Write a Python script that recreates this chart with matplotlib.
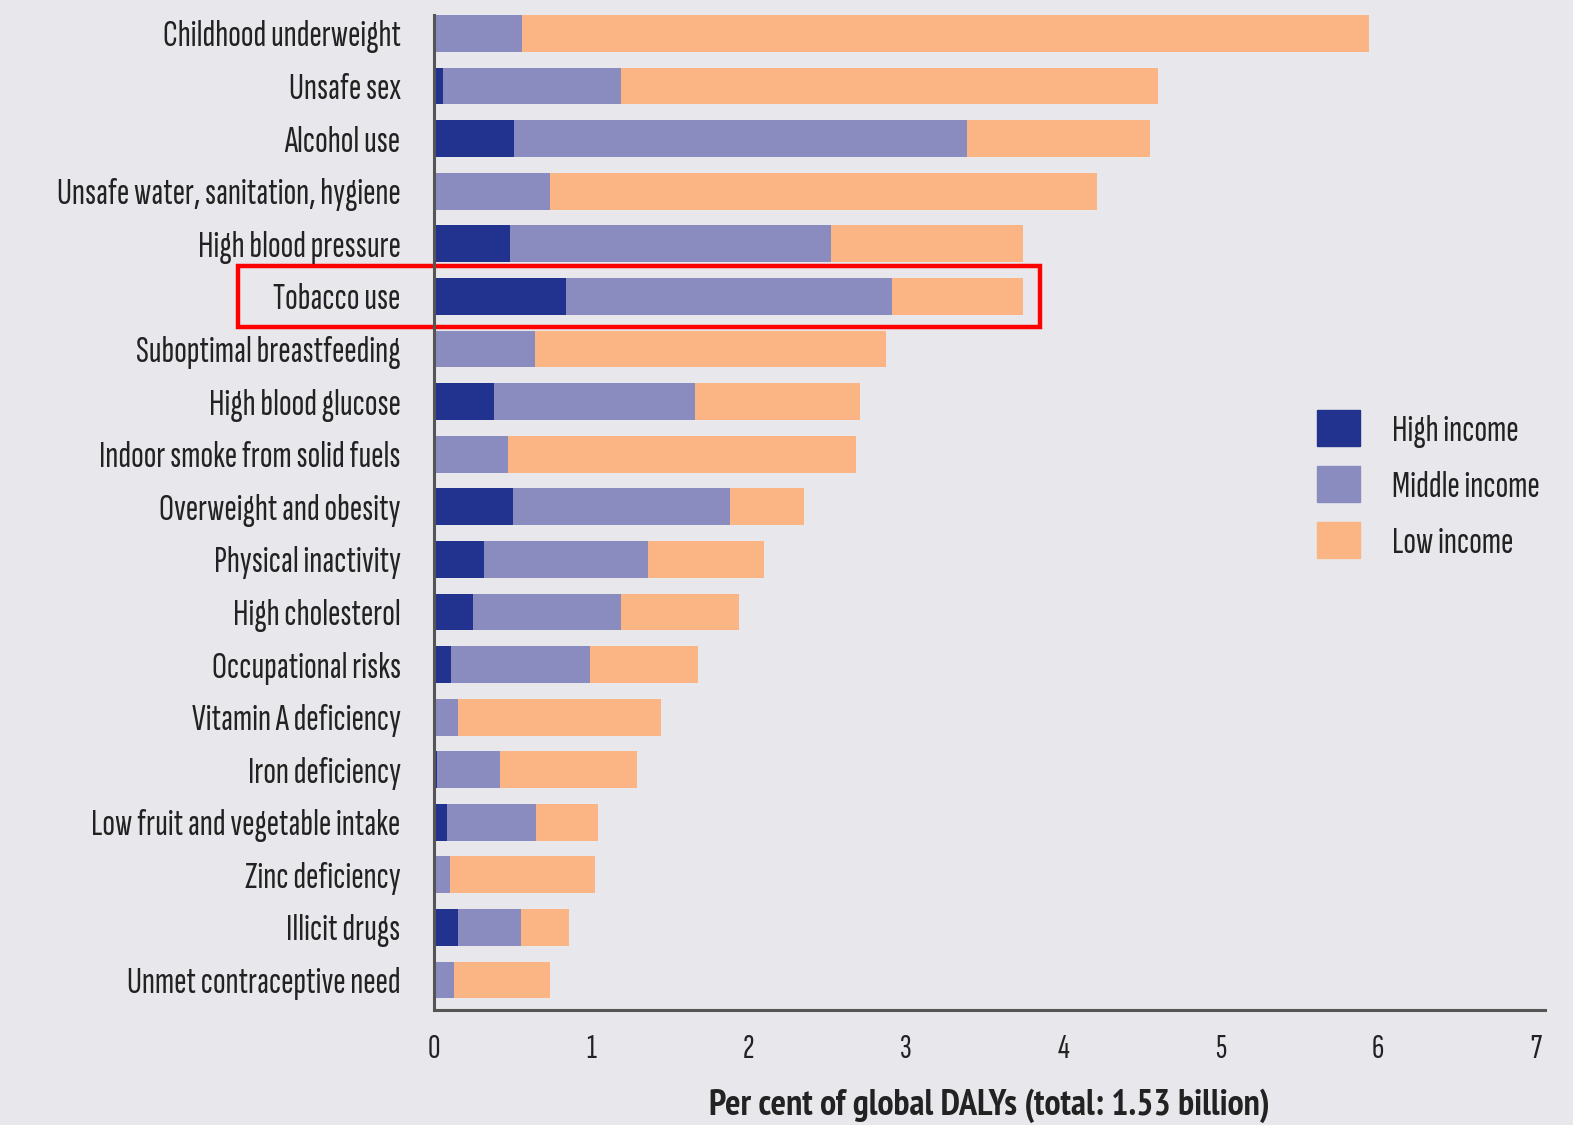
import matplotlib.pyplot as plt
from matplotlib import font_manager
from matplotlib.font_manager import FontProperties
from matplotlib.textpath import TextPath
from matplotlib.patches import Rectangle, Patch
import numpy as np

risks = ["Childhood underweight", "Unsafe sex", "Alcohol use",
         "Unsafe water, sanitation, hygiene", "High blood pressure",
         "Tobacco use", "Suboptimal breastfeeding", "High blood glucose",
         "Indoor smoke from solid fuels", "Overweight and obesity",
         "Physical inactivity", "High cholesterol", "Occupational risks",
         "Vitamin A deficiency", "Iron deficiency",
         "Low fruit and vegetable intake", "Zinc deficiency",
         "Illicit drugs", "Unmet contraceptive need"]

# per cent of global DALYs, by income group
high = [0.00, 0.06, 0.51, 0.00, 0.48, 0.84, 0.00, 0.38, 0.00, 0.50,
        0.32, 0.25, 0.11, 0.00, 0.02, 0.08, 0.00, 0.15, 0.00]
middle = [0.56, 1.13, 2.88, 0.74, 2.04, 2.07, 0.64, 1.28, 0.47, 1.38,
          1.04, 0.94, 0.88, 0.15, 0.40, 0.57, 0.10, 0.40, 0.13]
low = [5.38, 3.41, 1.16, 3.47, 1.22, 0.83, 2.23, 1.05, 2.21, 0.47,
       0.74, 0.75, 0.69, 1.29, 0.87, 0.39, 0.92, 0.31, 0.61]
groups = ["High income", "Middle income", "Low income"]
xlabel = "Per cent of global DALYs (total: 1.53 billion)"

c_high = "#22338f"
c_mid = "#8a8cbf"
c_low = "#fbb585"
bg = "#e8e8ec"
txt = "#222222"
DPI = 100


def text_w(prop, s):
    return TextPath((0, 0), s, prop=prop, size=10).get_extents().width


# the original uses a narrow sans (Myriad condensed), pick the narrowest
# proportional condensed sans face that is installed
def find_font(bold):
    best, best_w = None, None
    for f in font_manager.fontManager.ttflist:
        nm = (f.name + " " + f.fname.split('/')[-1]).lower()
        if not ('condensed' in nm or 'narrow' in nm or 'condensed' in str(f.stretch)):
            continue
        if 'sans' not in nm or 'serif' in nm.replace('sans-serif', ''):
            continue
        if f.style != 'normal' or 'mono' in nm:
            continue
        w = f.weight if isinstance(f.weight, (int, float)) else 400
        if bold and not 650 <= w <= 750:
            continue
        if not bold and w != 400:
            continue
        try:
            prop = FontProperties(fname=f.fname)
            if text_w(prop, "iiiii") > 0.6 * text_w(prop, "mmmmm"):
                continue  # monospaced
            tw = text_w(prop, "Unsafe water, sanitation, hygiene")
        except Exception:
            continue
        if best_w is None or tw < best_w:
            best, best_w = f.fname, tw
    return best


def make_prop(bold):
    p = find_font(bold)
    if p:
        return FontProperties(fname=p)
    return FontProperties(family='DejaVu Sans', weight='bold' if bold else 'normal')


def fit_size(prop, s, px, maxsize):
    w = text_w(prop, s) * DPI / 72
    return min(maxsize, 10 * px / w)


fp = make_prop(False)
fpb = make_prop(True)
fp_lab = fp.copy()
fp_lab.set_size(fit_size(fp, "Unsafe water, sanitation, hygiene", 387, 27))
fp_tick = fp.copy()
fp_tick.set_size(25)
fp_leg = fp.copy()
fp_leg.set_size(fit_size(fp, "Middle income", 170, 27))
fp_x = fpb.copy()
fp_x.set_size(fit_size(fpb, xlabel, 558, 27))

fig = plt.figure(figsize=(15.73, 11.25), dpi=DPI, facecolor=bg)
ax = fig.add_axes([0.2759, 0.1022, 0.7063, 0.8844], facecolor=bg)

y = np.arange(len(risks))
h = np.array(high)
m = np.array(middle)
lo = np.array(low)
ax.barh(y, h, height=0.7, color=c_high)
ax.barh(y, m, left=h, height=0.7, color=c_mid)
ax.barh(y, lo, left=h + m, height=0.7, color=c_low)

ax.set_ylim(18.57, -0.35)
ax.set_xlim(0, 7.06)
ax.set_yticks(y)
ax.set_yticklabels(risks, fontproperties=fp_lab, color=txt)
ax.set_xticks(range(8))
ax.set_xticklabels([str(i) for i in range(8)], fontproperties=fp_tick, color=txt)
ax.tick_params(axis='y', length=0, pad=24)
ax.tick_params(axis='x', length=0, pad=17)

for s in ['top', 'right']:
    ax.spines[s].set_visible(False)
for s in ['left', 'bottom']:
    ax.spines[s].set_color("#555555")
    ax.spines[s].set_linewidth(2.2)

ax.set_xlabel(xlabel, fontproperties=fp_x, color=txt, labelpad=18)

# highlight box around tobacco
ax.add_patch(Rectangle((-1.246, 5 - 0.57), 5.10, 1.16, fill=False,
                       edgecolor="#ff0000", linewidth=3.2, clip_on=False))

handles = [Patch(color=c, label=g) for c, g in zip([c_high, c_mid, c_low], groups)]
fs = fp_leg.get_size()
fig.legend(handles=handles, loc='upper left', bbox_to_anchor=(0.8373, 0.6356),
           frameon=False, prop=fp_leg, borderpad=0, borderaxespad=0,
           handlelength=31 / fs, handleheight=30 / fs,
           handletextpad=23 / fs, labelspacing=13 / fs, labelcolor=txt)

fig.savefig("out.png", dpi=DPI, facecolor=bg)
